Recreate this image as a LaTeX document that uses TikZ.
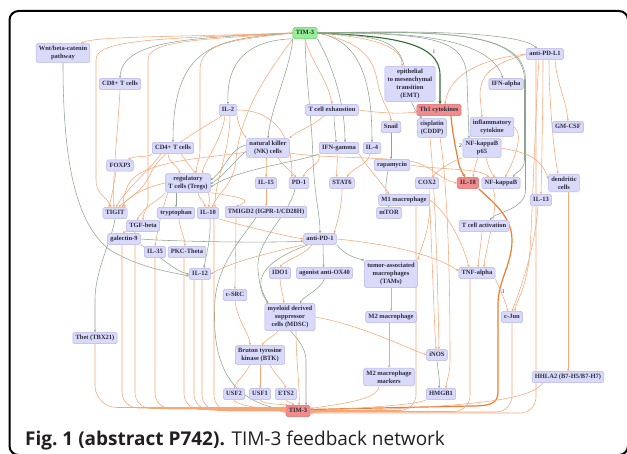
\documentclass[tikz,border=0pt]{standalone}
\usepackage{fontspec}
\setmainfont{Liberation Serif}
\newfontfamily\capface{Open Sans}
\usetikzlibrary{arrows.meta}
\pgfdeclarelayer{bg}
\pgfsetlayers{bg,main}
\definecolor{nodefill}{HTML}{D9D9F9}
\definecolor{nodedraw}{HTML}{B5B5E6}
\definecolor{redfill}{HTML}{F28C8C}
\definecolor{reddraw}{HTML}{E06A6A}
\definecolor{grnfill}{HTML}{96EE96}
\definecolor{grndraw}{HTML}{6CCB6C}
\definecolor{orgc}{HTML}{F7A676}
\definecolor{grc}{HTML}{8DA58D}
\definecolor{thkc}{HTML}{EE7B30}
\definecolor{dgrc}{HTML}{2F6B2F}
\definecolor{txtc}{HTML}{2B2B3A}
\definecolor{capc}{HTML}{231F20}
\newcommand\nodefont{\bfseries\fontsize{6.5}{8.2}\selectfont}
\tikzset{
 nd2/.style={rectangle, rounded corners=1.6pt, draw=nodedraw, fill=nodefill, line width=0.5pt, font=\nodefont, text=txtc, inner xsep=2.8pt, inner ysep=2.4pt, align=center},
 nd/.style={nd2, text height=4.8pt, text depth=1.5pt},
 rd/.style={nd, fill=redfill, draw=reddraw},
 gn/.style={nd, fill=grnfill, draw=grndraw},
 og/.style={draw=orgc, line width=0.55pt, -{Stealth[length=2.6pt,width=2.3pt]}},
 gr/.style={draw=grc, line width=0.55pt, -{Stealth[length=2.6pt,width=2.3pt]}},
 thk/.style={draw=thkc, line width=1.2pt, -{Stealth[length=3.2pt,width=3pt]}},
 dg/.style={draw=dgrc, line width=1.1pt, -{Stealth[length=3.2pt,width=3pt]}},
 elab/.style={font=\fontsize{5.5}{6}\selectfont, text=txtc, inner sep=0pt},
 bot/.style={og, rounded corners=16pt}
}
\begin{document}
\begin{tikzpicture}[x=1pt,y=1pt]
\useasboundingbox (0,0) rectangle (627,-454);
\clip (0,0) rectangle (627,-454);
\draw[line width=2pt, rounded corners=9pt] (9.5,-11) rectangle (628,-455);
% nodes
\node[gn] (t3) at (305,-33) {TIM-3};
\node[nd2] (wnt) at (63,-53) {Wnt/beta-catenin\\pathway};
\node[nd] (cd8) at (120,-84) {CD8+ T cells};
\node[nd] (pdl1) at (545,-54) {anti-PD-L1};
\node[nd2] (emt) at (410,-84) {epithelial\\to mesenchymal\\transition\\(EMT)};
\node[nd] (ifna) at (506,-84) {IFN-alpha};
\node[nd] (il2) at (228,-110) {IL-2};
\node[nd] (tex) at (332,-110) {T cell exhaustion};
\node[rd] (th1) at (439,-110) {Th1 cytokines};
\node[nd] (snail) at (391,-127) {Snail};
\node[nd2] (cis) at (432,-128) {cisplatin\\(CDDP)};
\node[nd2] (infl) at (492,-127) {inflammatory\\cytokine};
\node[nd] (gmcsf) at (568,-127) {GM-CSF};
\node[nd] (cd4) at (173,-148) {CD4+ T cells};
\node[nd2] (nk) at (268,-148) {natural killer\\(NK) cells};
\node[nd] (ifng) at (339,-148) {IFN-gamma};
\node[nd] (il4) at (372,-148) {IL-4};
\node[nd2] (p65) at (482,-148) {NF-kappaB\\p65};
\node[nd] (foxp3) at (120,-165.5) {FOXP3};
\node[nd] (rapa) at (392,-165) {rapamycin};
\node[nd2] (treg) at (188,-183) {regulatory\\T cells (Tregs)};
\node[nd] (il15) at (266,-183) {IL-15};
\node[nd] (pd1) at (299,-183) {PD-1};
\node[nd] (stat6) at (342,-183) {STAT6};
\node[nd] (cox2) at (427,-183) {COX2};
\node[rd] (il18) at (468,-183) {IL-18};
\node[nd] (nfkb) at (501,-183) {NF-kappaB};
\node[nd2] (dc) at (564,-183) {dendritic\\cells};
\node[nd] (m1) at (404,-200) {M1 macrophage};
\node[nd] (il13) at (541,-200) {IL-13};
\node[nd] (tigit) at (115,-213) {TIGIT};
\node[nd] (tryp) at (176,-213) {tryptophan};
\node[nd] (il10) at (208,-213) {IL-10};
\node[nd] (tmigd2) at (266,-212) {TMIGD2 (IGPR-1/CD28H)};
\node[nd] (mtor) at (389,-213) {mTOR};
\node[nd] (tgfb) at (143,-226) {TGF-beta};
\node[nd] (tact) at (484,-226) {T cell activation};
\node[nd] (gal9) at (124,-239) {galectin-9};
\node[nd] (apd1) at (320,-239) {anti-PD-1};
\node[nd] (il35) at (155,-252) {IL-35};
\node[nd] (pkc) at (187,-252) {PKC-Theta};
\node[nd] (il12) at (200,-274) {IL-12};
\node[nd] (ido1) at (280,-273) {IDO1};
\node[nd] (ox40) at (324.5,-273) {agonist anti-OX40};
\node[nd2] (tams) at (391,-274) {tumor-associated\\macrophages\\(TAMs)};
\node[nd] (tnf) at (477,-273) {TNF-alpha};
\node[nd] (csrc) at (235,-295) {c-SRC};
\node[nd2] (mdsc) at (290,-317) {myeloid derived\\suppressor\\cells (MDSC)};
\node[nd] (m2) at (391,-317) {M2 macrophage};
\node[nd] (cjun) at (512,-317) {c-Jun};
\node[nd] (tbet) at (95,-338) {Tbet (TBX21)};
\node[nd2] (btk) at (260,-355) {Bruton tyrosine\\kinase (BTK)};
\node[nd] (inos) at (437,-355) {iNOS};
\node[nd2] (m2m) at (389,-377) {M2 macrophage\\markers};
\node[nd] (hhla2) at (568,-377) {HHLA2 (B7-H5/B7-H7)};
\node[nd] (usf2) at (234,-394) {USF2};
\node[nd] (usf1) at (260,-394) {USF1};
\node[nd] (ets2) at (286,-394) {ETS2};
\node[nd] (hmgb1) at (441,-394) {HMGB1};
\node[rd] (b3) at (298,-411) {TIM-3};
\node[elab] (l1) at (434,-52) {1};
\node[elab] (l2) at (460.5,-146) {2};
\node[elab] (l3) at (503,-292) {3};
\node[anchor=base west, inner sep=0pt, font=\capface\fontsize{19}{22}\selectfont, text=capc] (cap) at (25,-446) {\textbf{Fig.~1 (abstract P742).} TIM-3 feedback network};
\begin{pgfonlayer}{bg}
% ---- from TIM-3 (top)
\draw[og] (t3.west) .. controls (180,-37) and (95,-36) .. ([xshift=18pt]wnt.north);
\draw[gr] (t3.west) .. controls (190,-38) and (122,-40) .. (cd8.north);
\draw[og] (t3.west) .. controls (150,-39) and (96,-40) .. (96,-60) -- (96,-180) .. controls (96,-195) and (108,-198) .. ([xshift=-4pt]tigit.north);
\draw[og] (t3.west) .. controls (200,-40) and (148,-40) .. (148,-60) -- (148,-200) .. controls (148,-210) and (143,-212) .. (tgfb.north);
\draw[gr] (t3.west) .. controls (220,-39) and (173,-42) .. (cd4.north);
\draw[og] (t3.west) .. controls (235,-40) and (200,-42) .. (200,-70) -- (200,-150) .. controls (200,-160) and (196,-165) .. ([xshift=8pt]treg.north);
\draw[gr] (t3.south west) .. controls (250,-40) and (226,-60) .. (il2.north);
\draw[og] (t3.south west) .. controls (270,-70) and (240,-110) .. (236,-160) .. controls (234,-185) and (216,-195) .. ([xshift=4pt]il10.north);
\draw[gr] (t3.south west) .. controls (290,-70) and (270,-110) .. (nk.north);
\draw[gr] (t3.south) .. controls (306,-80) and (312,-120) .. (313,-160) .. controls (315,-200) and (320,-215) .. (apd1.north);
\draw[og] (t3.south) .. controls (310,-60) and (328,-80) .. (tex.north);
\draw[gr] (t3.south east) .. controls (330,-60) and (345,-100) .. ([xshift=6pt]ifng.north);
\draw[gr] (t3.east) .. controls (360,-40) and (372,-80) .. (il4.north);
\draw[og] (t3.east) .. controls (370,-37) and (402,-45) .. ([xshift=-8pt]emt.north);
\draw[og] (t3.east) .. controls (350,-40) and (372,-50) .. (377,-80) .. controls (382,-105) and (390,-110) .. (snail.north);
\draw[dg] (t3.east) .. controls (390,-36) and (440,-42) .. (440,-75) -- ([xshift=1pt]th1.north);
\draw[gr] (t3.east) .. controls (380,-36) and (400,-40) .. (405,-70) .. controls (408,-95) and (412,-108) .. ([xshift=-10pt]cis.north);
\draw[gr] (t3.east) .. controls (440,-33) and (466,-40) .. (467,-80) -- ([xshift=-13pt]p65.north);
\draw[gr] (t3.east) .. controls (420,-31) and (490,-40) .. ([xshift=-3pt]ifna.north);
\draw[gr] (t3.east) .. controls (430,-30) and (520,-33) .. ([xshift=-8pt]pdl1.north);
\draw[gr] (t3.east) .. controls (440,-31) and (524,-30) .. (524.5,-80) -- (524.5,-160) .. controls (524.5,-170) and (516,-172) .. ([xshift=12pt]nfkb.north);
\draw[gr] (t3.east) .. controls (450,-31) and (525.5,-32) .. (525.5,-80) -- (525.5,-190) .. controls (525.5,-210) and (495,-212) .. ([xshift=6pt]tact.north);
% ---- thick path
\draw[thk] ([xshift=12pt]th1.south) .. controls (452,-130) and (456,-150) .. (458,-160) .. controls (460,-170) and (462,-172) .. ([xshift=-3pt]il18.north);
\draw[thk] (il18.south east) .. controls (490,-200) and (512,-215) .. (512,-240) .. controls (512,-265) and (498,-280) .. (498,-305) -- (498,-392) .. controls (498,-404) and (490,-406) .. (470,-406) -- ([yshift=1.5pt]b3.east);
% ---- anti-PD-L1
\draw[og] (pdl1.west) .. controls (490,-58) and (450,-70) .. ([xshift=6pt]th1.north);
\draw[og] (pdl1.west) .. controls (500,-62) and (480,-70) .. (480,-95) -- ([xshift=-10pt]infl.north);
\draw[og] ([xshift=10pt]pdl1.south) .. controls (556,-80) and (566,-100) .. (gmcsf.north);
\draw[og] ([xshift=4pt]pdl1.south) .. controls (549,-90) and (552,-140) .. ([xshift=-6pt]dc.north);
\draw[og] ([xshift=-2pt]pdl1.south) .. controls (543,-100) and (542,-150) .. (il13.north);
\draw[og] ([xshift=-6pt]pdl1.south) .. controls (536,-100) and (533,-200) .. (530,-250) .. controls (527,-290) and (516,-300) .. ([xshift=3pt]cjun.north);
\draw[bot] ([xshift=-9pt]pdl1.south) |- ([yshift=-2pt]b3.east);
% ---- NF-kappaB p65, inflammatory cytokine
\draw[og] (p65.south west) .. controls (455,-160) and (440,-168) .. ([xshift=5pt]cox2.north);
\draw[og] ([xshift=-4pt]p65.south) .. controls (475,-165) and (474,-172) .. ([xshift=5pt]il18.north);
\draw[og] ([xshift=4pt]p65.south) .. controls (488,-165) and (490,-172) .. ([xshift=-6pt]nfkb.north);
\draw[og] (p65.east) .. controls (520,-152) and (540,-154) .. ([yshift=4pt]dc.west);
\draw[og] (infl.east) .. controls (525,-135) and (512,-165) .. ([xshift=4pt]nfkb.north);
\draw[og] ([yshift=-5pt]nk.east) .. controls (320,-158) and (380,-157) .. (410,-161) .. controls (430,-164) and (440,-180) .. (il18.west);
\draw[og] (rapa.east) .. controls (440,-170) and (480,-168) .. ([xshift=-12pt]nfkb.north);
\draw[og] (tex.east) .. controls (380,-113) and (400,-114) .. ([yshift=-2pt]th1.west);
% ---- middle
\draw[gr] (snail.south) -- ([xshift=-1pt]rapa.north);
\draw[gr] ([xshift=-4pt]rapa.south) .. controls (385,-185) and (385,-195) .. (mtor.north);
\draw[og] ([xshift=-2pt]il4.south) .. controls (368,-165) and (352,-168) .. ([xshift=5pt]stat6.north);
\draw[og] ([xshift=-2pt]ifng.south) .. controls (338,-165) and (336,-170) .. ([xshift=-5pt]stat6.north);
\draw[og] (ifng.south west) .. controls (322,-165) and (306,-168) .. ([xshift=4pt]pd1.north);
\draw[og] (ifng.south east) .. controls (365,-165) and (380,-180) .. ([xshift=-15pt]m1.north);
\draw[gr] ([yshift=3pt]nk.west) .. controls (230,-148) and (225,-170) .. ([yshift=3pt]treg.east);
\draw[gr] ([yshift=-3pt]nk.west) .. controls (235,-160) and (225,-175) .. ([yshift=-1pt]treg.east);
\draw[gr] (ifng.south west) .. controls (300,-162) and (240,-168) .. ([yshift=-4pt]treg.east);
\draw[og] ([xshift=-8pt]tex.south) .. controls (315,-125) and (295,-132) .. (nk.north east);
\draw[gr] ([xshift=2pt]tex.south) .. controls (334,-125) and (336,-135) .. ([xshift=-3pt]ifng.north);
\draw[og] (il2.south east) .. controls (238,-125) and (242,-132) .. (nk.north west);
\draw[og] (il2.east) .. controls (265,-110) and (292,-125) .. ([xshift=-7pt]pd1.north);
\draw[og] ([xshift=-3pt]il2.south) .. controls (222,-140) and (205,-160) .. ([xshift=14pt]treg.north);
\draw[og] ([xshift=2pt]il2.south) .. controls (230,-150) and (214,-185) .. ([xshift=7pt]il10.north);
\draw[og] ([xshift=-6pt]il2.south) .. controls (200,-130) and (160,-150) .. (150,-175) .. controls (140,-195) and (125,-200) .. ([xshift=4pt]tigit.north);
\draw[og] (cd4.south west) .. controls (150,-158) and (135,-155) .. ([xshift=8pt]foxp3.north);
\draw[og] ([xshift=-5pt]cd4.south) .. controls (168,-162) and (178,-166) .. ([xshift=-8pt]treg.north);
\draw[og] ([xshift=8pt]cd4.south) .. controls (195,-175) and (214,-190) .. (il10.north);
\draw[og] ([xshift=-12pt]cd4.south) .. controls (150,-170) and (125,-190) .. ([xshift=1pt]tigit.north);
\draw[og] (cd8.south) .. controls (118,-130) and (112,-180) .. ([xshift=-1pt]tigit.north);
\draw[og] ([xshift=-4pt]foxp3.south) .. controls (114,-185) and (112,-195) .. ([xshift=-6pt]tigit.north);
\draw[og] (treg.west) .. controls (150,-186) and (128,-195) .. ([xshift=7pt]tigit.north);
\draw[og] ([yshift=-4pt]nk.west) .. controls (210,-158) and (140,-160) .. (128,-185) .. controls (124,-195) and (122,-200) .. ([xshift=10pt]tigit.north);
\draw[gr] ([xshift=-12pt]treg.south) -- (tryp.north);
\draw[og] ([xshift=10pt]treg.south) .. controls (200,-200) and (205,-203) .. ([xshift=-3pt]il10.north);
\draw[og] (treg.south west) .. controls (160,-200) and (145,-205) .. ([xshift=-6pt]tgfb.north);
\draw[og] (treg.south east) .. controls (240,-197) and (255,-200) .. ([xshift=-30pt]tmigd2.north);
\draw[og] ([xshift=-20pt]treg.south) .. controls (160,-215) and (157,-235) .. (il35.north);
\draw[og] ([xshift=-2pt]nk.south) .. controls (266,-165) and (266,-170) .. (il15.north);
\draw[og] ([xshift=10pt]nk.south) .. controls (282,-165) and (290,-170) .. ([xshift=-3pt]pd1.north);
\draw[og] (il15.south) -- (tmigd2.north);
\draw[gr] ([xshift=-4pt]pd1.south) .. controls (290,-215) and (255,-240) .. (258,-270) .. controls (260,-290) and (263,-296) .. ([xshift=-22pt]mdsc.north);
\draw[og] (stat6.south) .. controls (342,-205) and (338,-220) .. ([xshift=14pt]apd1.north);
\draw[gr] ([xshift=2pt]il10.south) .. controls (211,-240) and (206,-255) .. ([xshift=4pt]il12.north);
\draw[og] (il10.south east) .. controls (240,-225) and (280,-235) .. (apd1.west);
\draw[gr] (gal9.east) .. controls (180,-242) and (280,-243) .. ([yshift=-2pt]apd1.west);
\draw[gr] (gal9.south east) .. controls (160,-255) and (175,-272) .. (il12.west);
\draw[gr] (wnt.south) .. controls (63,-140) and (70,-220) .. (110,-250) .. controls (140,-268) and (170,-272) .. ([yshift=-2pt]il12.west);
\draw[og] ([xshift=-8pt]tgfb.south) .. controls (134,-232) and (126,-230) .. ([xshift=-1pt]gal9.north);
\draw[og] ([xshift=3pt]tryp.south) .. controls (180,-230) and (185,-238) .. ([xshift=-2pt]pkc.north);
\draw[gr] (tigit.south) .. controls (112,-240) and (95,-270) .. (95,-300) -- (tbet.north);
\draw[og] (apd1.south west) .. controls (280,-250) and (230,-262) .. (il12.east);
\draw[og] ([xshift=-8pt]apd1.south) .. controls (305,-255) and (285,-260) .. (ido1.north);
\draw[gr] ([xshift=3pt]apd1.south) -- ([xshift=-1pt]ox40.north);
\draw[gr] (apd1.south east) .. controls (345,-255) and (355,-258) .. (tams.north west);
\draw[og] (apd1.east) .. controls (400,-245) and (440,-258) .. ([yshift=2pt]tnf.west);
\draw[gr] ([xshift=-12pt]apd1.south) .. controls (280,-255) and (255,-270) .. (262,-290) .. controls (275,-325) and (305,-335) .. (306,-360) -- ([xshift=8pt]b3.north);
\draw[gr] ([xshift=-10pt]tmigd2.south) .. controls (240,-240) and (218,-265) .. (215,-300) .. controls (212,-350) and (220,-400) .. ([yshift=1pt]b3.west);
\draw[og] ([xshift=-30pt]tmigd2.south) .. controls (236,-240) and (235,-270) .. (csrc.north);
\draw[og] (ido1.south) .. controls (281,-290) and (283,-295) .. ([xshift=-6pt]mdsc.north);
\draw[gr] (ox40.south) .. controls (320,-290) and (305,-295) .. ([xshift=10pt]mdsc.north);
\draw[og] (tams.south) -- (m2.north);
\draw[og] (m1.south east) .. controls (430,-230) and (420,-250) .. (tams.north east);
\draw[og] ([xshift=-2pt]m2.south) -- (m2m.north);
\draw[og] (mdsc.east) .. controls (360,-325) and (400,-345) .. (inos.west);
\draw[og] ([xshift=-12pt]mdsc.south) .. controls (276,-335) and (265,-340) .. ([xshift=2pt]btk.north);
\draw[og] (csrc.south) .. controls (237,-320) and (250,-335) .. ([xshift=-10pt]btk.north);
\draw[og] ([xshift=-10pt]btk.south) .. controls (245,-375) and (236,-382) .. (usf2.north);
\draw[og] (btk.south) -- (usf1.north);
\draw[og] ([xshift=10pt]btk.south) .. controls (275,-375) and (284,-382) .. (ets2.north);
\draw[gr] (inos.south) .. controls (438,-370) and (440,-380) .. ([xshift=-2pt]hmgb1.north);
\draw[og] ([xshift=2pt]cox2.south) .. controls (432,-250) and (434,-320) .. ([xshift=-1pt]inos.north);
\draw[og] ([xshift=-2pt]cis.south) .. controls (436,-200) and (438,-300) .. ([xshift=2pt]inos.north);
\draw[og] ([xshift=8pt]cis.south) .. controls (450,-200) and (450,-330) .. (450,-360) .. controls (450,-375) and (446,-382) .. ([xshift=5pt]hmgb1.north);
\draw[og] ([xshift=-2pt]tact.south) .. controls (481,-245) and (479,-255) .. ([xshift=1pt]tnf.north);
\draw[og] (m1.east) .. controls (445,-210) and (462,-240) .. ([xshift=-8pt]tnf.north);
\draw[og] ([xshift=-8pt]nfkb.south) .. controls (500,-205) and (486,-245) .. ([xshift=7pt]tnf.north);
\draw[og] (tnf.south east) .. controls (500,-290) and (505,-300) .. ([xshift=-4pt]cjun.north);
\draw[og] ([xshift=-3pt]il13.south) .. controls (535,-250) and (520,-290) .. (cjun.north);
\draw[og] ([xshift=4pt]dc.south) -- (hhla2.north);
% ---- bottom bundle to TIM-3
\draw[og, rounded corners=22pt] (tbet.south) |- ([yshift=3.5pt]b3.west);
\draw[bot] ([xshift=-2pt]gal9.south) |- ([yshift=3pt]b3.west);
\draw[bot] ([xshift=-8pt]tgfb.south) |- ([yshift=2.5pt]b3.west);
\draw[bot] (il35.south) |- ([yshift=2pt]b3.west);
\draw[bot] ([xshift=-3pt]pkc.south) |- ([yshift=1.5pt]b3.west);
\draw[bot] ([xshift=-6pt]il12.south) |- ([yshift=1pt]b3.west);
\draw[bot] ([xshift=2pt]il12.south) |- ([yshift=0.5pt]b3.west);
\draw[bot] ([xshift=6pt]il10.south) |- ([yshift=0pt]b3.west);
\draw[og] (usf2.south) .. controls (236,-406) and (268,-409) .. ([yshift=-1pt]b3.west);
\draw[og] (usf1.south) .. controls (262,-404) and (278,-404) .. ([xshift=2pt]b3.north west);
\draw[og] (ets2.south) .. controls (287,-402) and (292,-403) .. ([xshift=-4pt]b3.north);
\draw[og] ([xshift=6pt]mdsc.south) .. controls (296,-360) and (300,-390) .. ([xshift=1pt]b3.north);
\draw[og] ([xshift=-10pt]m2m.south) .. controls (378,-400) and (340,-404) .. ([yshift=2.5pt]b3.east);
\draw[bot] ([xshift=12pt]m1.south) |- ([yshift=0.5pt]b3.east);
\draw[og] (hmgb1.south west) .. controls (420,-404) and (380,-407) .. ([yshift=0pt]b3.east);
\draw[bot] ([xshift=-7pt]tnf.south) |- ([yshift=-0.5pt]b3.east);
\draw[bot] (cjun.south) |- ([yshift=-1pt]b3.east);
\draw[og] ([xshift=-25pt]hhla2.south) .. controls (530,-400) and (480,-406) .. ([yshift=-1.5pt]b3.east);
\end{pgfonlayer}
\end{tikzpicture}
\end{document}
